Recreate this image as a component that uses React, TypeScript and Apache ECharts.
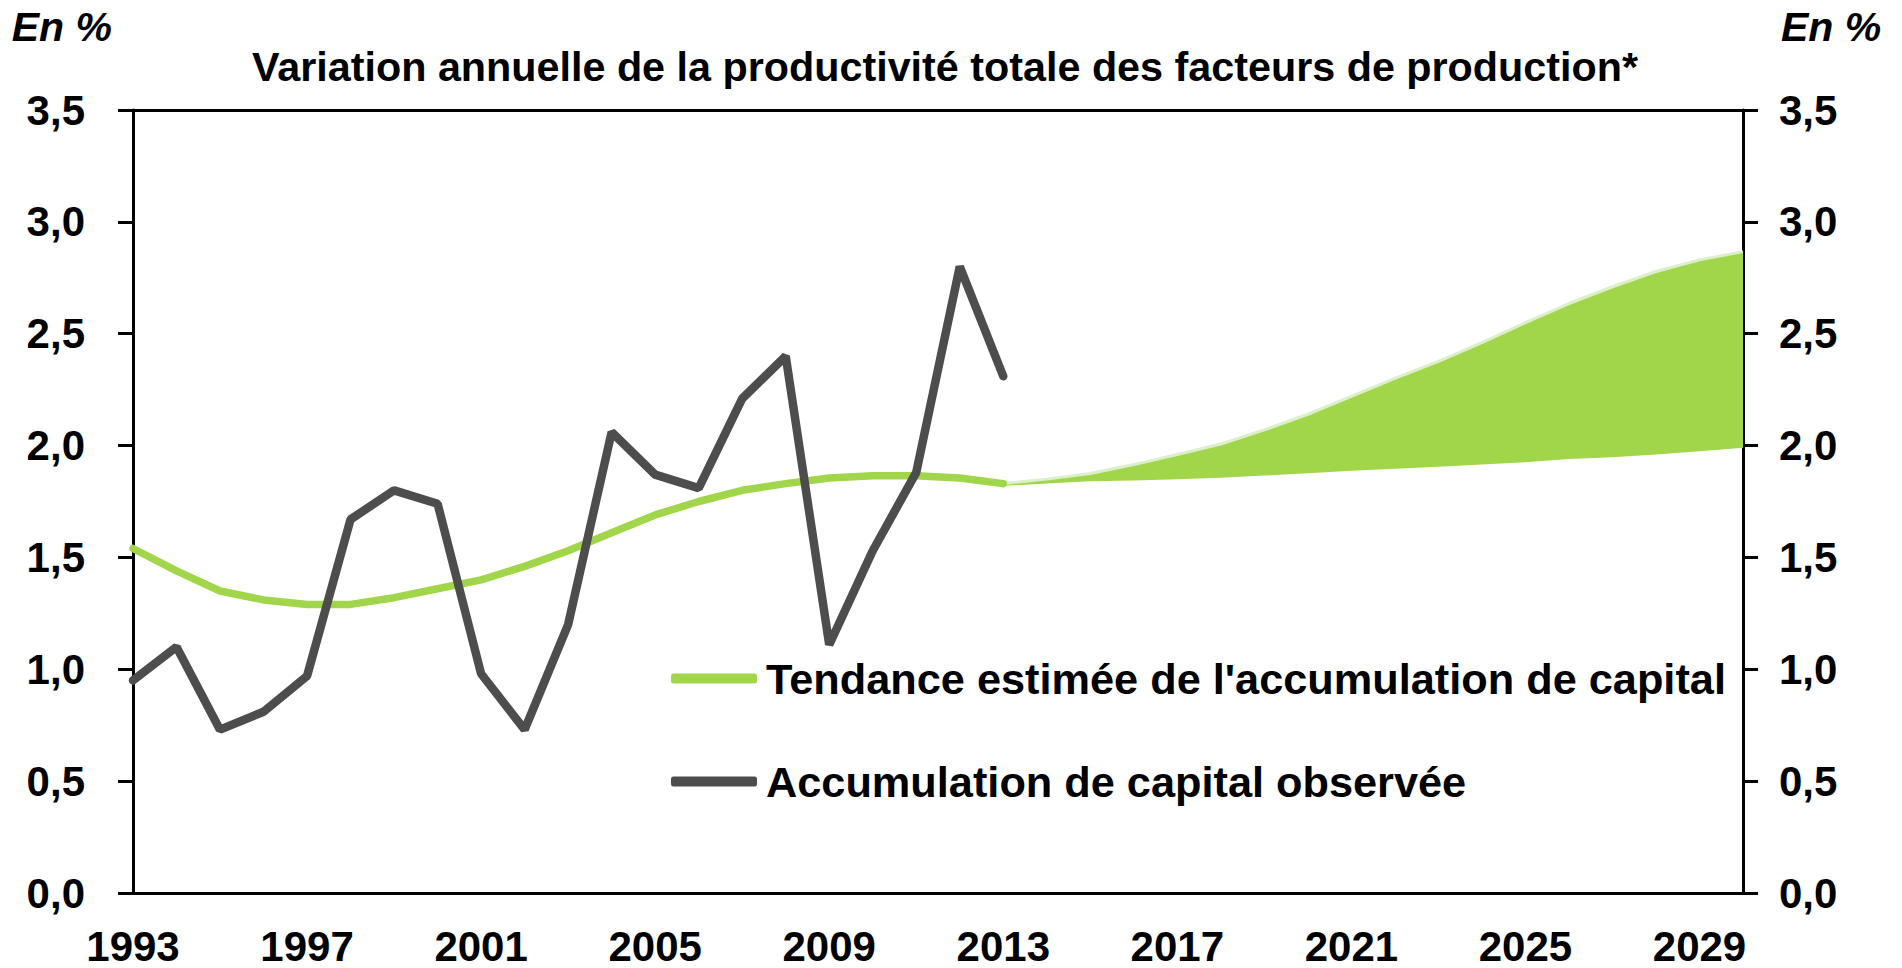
import React, { useEffect, useRef } from "react";
import * as echarts from "echarts";

const years = [
  "1993", "1994", "1995", "1996", "1997", "1998", "1999", "2000", "2001", "2002",
  "2003", "2004", "2005", "2006", "2007", "2008", "2009", "2010", "2011", "2012",
  "2013", "2014", "2015", "2016", "2017", "2018", "2019", "2020", "2021", "2022",
  "2023", "2024", "2025", "2026", "2027", "2028", "2029", "2030",
];

// 1993-2013
const trend = [
  1.54, 1.44, 1.35, 1.31, 1.29, 1.29, 1.32, 1.36, 1.40, 1.46,
  1.53, 1.61, 1.69, 1.75, 1.80, 1.83, 1.855, 1.865, 1.865, 1.855, 1.83,
];
const observed = [
  0.95, 1.10, 0.73, 0.81, 0.97, 1.67, 1.80, 1.74, 0.98, 0.73,
  1.20, 2.06, 1.87, 1.81, 2.21, 2.40, 1.11, 1.53, 1.88, 2.80, 2.31,
];

// projection band 2013-2030
const bandStartYear = "2013";
const bandLower = [
  1.82, 1.83, 1.84, 1.844, 1.85, 1.856, 1.866, 1.876, 1.888, 1.896,
  1.905, 1.915, 1.926, 1.94, 1.948, 1.96, 1.975, 1.99,
];
const bandUpper = [
  1.83, 1.85, 1.875, 1.915, 1.96, 2.007, 2.07, 2.14, 2.22, 2.30,
  2.376, 2.46, 2.55, 2.635, 2.71, 2.778, 2.83, 2.867,
];

const yTicks = [0, 0.5, 1, 1.5, 2, 2.5, 3, 3.5];

const TREND_NAME = "Tendance estimée de l'accumulation de capital";
const OBS_NAME = "Accumulation de capital observée";
const TITLE = "Variation annuelle de la productivité totale des facteurs de production*";
const UNIT = "En %";

const GREEN = "#A1D64B";
const GRAY = "#4D4D4D";
const FONT = "'Liberation Sans', Arial, sans-serif";

export default function App() {
  const ref = useRef<HTMLDivElement>(null);

  useEffect(() => {
    document.body.style.margin = "0";
    if (!ref.current) return;
    const chart = echarts.init(ref.current, undefined, { renderer: "svg" });

    const start = years.indexOf(bandStartYear);
    const trendData = years.map((_, i) => (i < trend.length ? trend[i] : null));
    const obsData = years.map((_, i) => (i < observed.length ? observed[i] : null));
    const lowerData = years.map((_, i) => (i >= start ? bandLower[i - start] : null));
    const diffData = years.map((_, i) =>
      i >= start ? +(bandUpper[i - start] - bandLower[i - start]).toFixed(4) : null
    );

    const labelStyle = {
      fontFamily: FONT,
      fontWeight: "bold" as const,
      fontSize: 42,
      color: "#000",
    };
    const axisLine = { show: true, onZero: false, lineStyle: { color: "#000", width: 3 } };
    const yMin = yTicks[0];
    const yMax = yTicks[yTicks.length - 1];
    const yInt = yTicks[1] - yTicks[0];
    const nameStyle = {
      fontFamily: FONT,
      fontWeight: "bold" as const,
      fontStyle: "italic" as const,
      fontSize: 41,
      color: "#000",
    };

    const legendCommon = {
      left: 671,
      padding: 0,
      orient: "horizontal" as const,
      itemWidth: 86,
      itemHeight: 10,
      icon: "roundRect",
      textStyle: {
        fontFamily: FONT,
        fontWeight: "bold" as const,
        fontSize: 43.3,
        color: "#000",
        padding: [0, 0, 0, 4],
      },
      selectedMode: false,
    };

    chart.setOption({
      animation: false,
      backgroundColor: "#fff",
      title: {
        text: TITLE,
        left: 940,
        textAlign: "center",
        top: 41,
        textStyle: {
          fontFamily: FONT,
          fontWeight: "bold",
          fontSize: 41.3,
          color: "#000",
        },
      },
      legend: [
        { ...legendCommon, top: 657, data: [TREND_NAME] },
        { ...legendCommon, top: 760, data: [OBS_NAME] },
      ],
      grid: {
        left: 133,
        right: 159,
        top: 110,
        bottom: 75,
        containLabel: false,
        outerBoundsMode: "none",
      },
      xAxis: [
        {
          type: "category",
          data: years,
          boundaryGap: false,
          axisLine,
          axisTick: { show: false },
          axisLabel: { ...labelStyle, interval: 3, margin: 32 },
          splitLine: { show: false },
        },
        {
          type: "category",
          data: years,
          position: "top",
          boundaryGap: false,
          axisLine,
          axisTick: { show: false },
          axisLabel: { show: false },
          splitLine: { show: false },
        },
      ],
      yAxis: [
        {
          type: "value",
          position: "left",
          min: yMin,
          max: yMax,
          interval: yInt,
          name: UNIT,
          nameLocation: "end",
          nameGap: 63,
          nameTextStyle: { ...nameStyle, align: "right", padding: [0, 21, 0, 0] },
          axisLine,
          axisTick: { show: true, inside: false, length: 15, lineStyle: { color: "#000", width: 3 } },
          axisLabel: {
            ...labelStyle,
            margin: 48,
            formatter: (v: number) => v.toFixed(1).replace(".", ","),
          },
          splitLine: { show: false },
        },
        {
          type: "value",
          position: "right",
          min: yMin,
          max: yMax,
          interval: yInt,
          name: UNIT,
          nameLocation: "end",
          nameGap: 63,
          nameTextStyle: { ...nameStyle, align: "left", padding: [0, 0, 0, 38] },
          axisLine,
          axisTick: { show: true, inside: false, length: 15, lineStyle: { color: "#000", width: 3 } },
          axisLabel: {
            ...labelStyle,
            margin: 36,
            formatter: (v: number) => v.toFixed(1).replace(".", ","),
          },
          splitLine: { show: false },
        },
      ],
      series: [
        {
          name: "Bande basse",
          type: "line",
          stack: "band",
          data: lowerData,
          symbol: "none",
          silent: true,
          lineStyle: { opacity: 0 },
          itemStyle: { color: GREEN },
          z: 1,
        },
        {
          name: "Bande de projection",
          type: "line",
          stack: "band",
          data: diffData,
          symbol: "none",
          silent: true,
          lineStyle: { color: "#DCEFCB", width: 3 },
          areaStyle: { color: GREEN, opacity: 1 },
          itemStyle: { color: GREEN },
          z: 1,
        },
        {
          name: TREND_NAME,
          type: "line",
          data: trendData,
          color: GREEN,
          symbol: "none",
          lineStyle: { color: GREEN, width: 7.5, cap: "round" },
          itemStyle: { color: GREEN },
          z: 2,
        },
        {
          name: OBS_NAME,
          type: "line",
          data: obsData,
          color: GRAY,
          symbol: "none",
          lineStyle: { color: GRAY, width: 8.5, cap: "round" },
          itemStyle: { color: GRAY },
          z: 3,
        },
      ],
    });

    return () => chart.dispose();
  }, []);

  return <div ref={ref} style={{ width: "1902px", height: "968px" }} />;
}
